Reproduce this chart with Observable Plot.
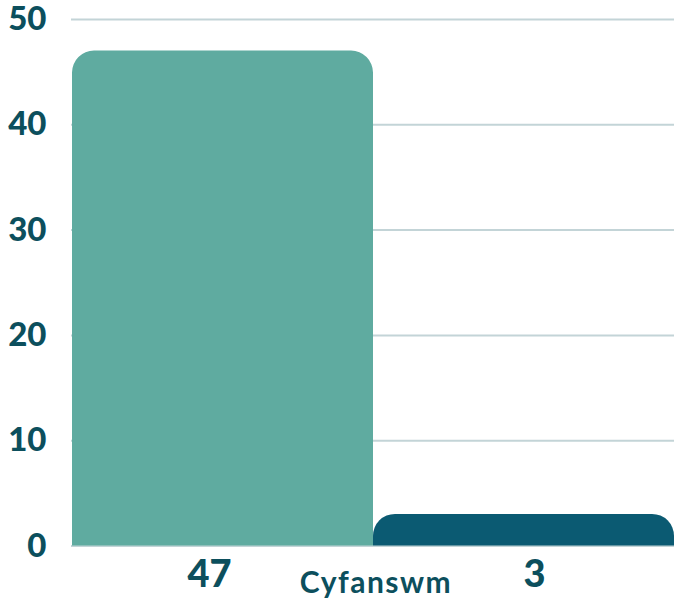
<!DOCTYPE html>
<html>
<head>
<meta charset="utf-8">
<script src="https://cdn.jsdelivr.net/npm/d3@7"></script>
<script src="https://cdn.jsdelivr.net/npm/@observablehq/plot@0.6"></script>
<style>
  html, body { margin: 0; padding: 0; background: #ffffff; }
  #chart { width: 674px; height: 604px; }
</style>
</head>
<body>
<div id="chart"></div>
<script>
const series = ["Cyfres 1", "Cyfres 2"];
const values = [47, 3];
const colors = ["#5faba0", "#0b5a72"];
const groupLabel = "Cyfanswm";
const yTicks = [0, 10, 20, 30, 40, 50];
const labelShift = [-13.5, 10.5];

const data = series.map((s, i) => ({ series: s, value: values[i], shift: labelShift[i] }));
const textColor = "#0c4f5d";

const chart = Plot.plot({
  width: 674,
  height: 604,
  marginLeft: 71,
  marginRight: 0,
  marginTop: 19,
  marginBottom: 58.5,
  style: { fontFamily: "Lato, 'Open Sans', sans-serif", background: "#ffffff", color: textColor },
  x: { domain: series, padding: 0, axis: null },
  y: { domain: [0, 50], label: null },
  color: { domain: series, range: colors },
  marks: [
    Plot.gridY(yTicks, { stroke: "#c3d4d7", strokeOpacity: 1, strokeWidth: 2 }),
    Plot.axisY(yTicks, {
      tickSize: 0, tickPadding: 25, tickFormat: d => String(d),
      fontSize: 33, fontWeight: 900, fill: textColor, label: null
    }),
    Plot.barY(data, { x: "series", y: "value", fill: "series" }),
    ...data.map(d => Plot.text([d], {
      x: "series", text: v => String(v.value), frameAnchor: "bottom", lineAnchor: "middle",
      dy: 28.5, dx: d.shift, fontSize: 38, fontWeight: 900, fill: textColor
    })),
    Plot.text([groupLabel], {
      text: d => d, frameAnchor: "bottom", lineAnchor: "middle", dy: 37, dx: 3,
      fontSize: 30, fontWeight: 700, fill: textColor
    })
  ]
});

// round top corners of bars
d3.select(chart).selectAll("g[aria-label='bar'] rect").each(function () {
  const r0 = d3.select(this);
  const x = +r0.attr("x"), y = +r0.attr("y"), w = +r0.attr("width"), h = +r0.attr("height");
  const r = Math.min(22, h, w / 2);
  const p = `M${x},${y + h}V${y + r}A${r},${r} 0 0 1 ${x + r},${y}H${x + w - r}A${r},${r} 0 0 1 ${x + w},${y + r}V${y + h}Z`;
  const path = document.createElementNS("http://www.w3.org/2000/svg", "path");
  path.setAttribute("d", p);
  path.setAttribute("fill", r0.attr("fill"));
  this.parentNode.replaceChild(path, this);
});

// wider letter spacing on the group label
d3.select(chart).selectAll("text")
  .filter(function () { return this.textContent === groupLabel; })
  .attr("letter-spacing", "1.5");

document.getElementById("chart").appendChild(chart);
</script>
</body>
</html>
